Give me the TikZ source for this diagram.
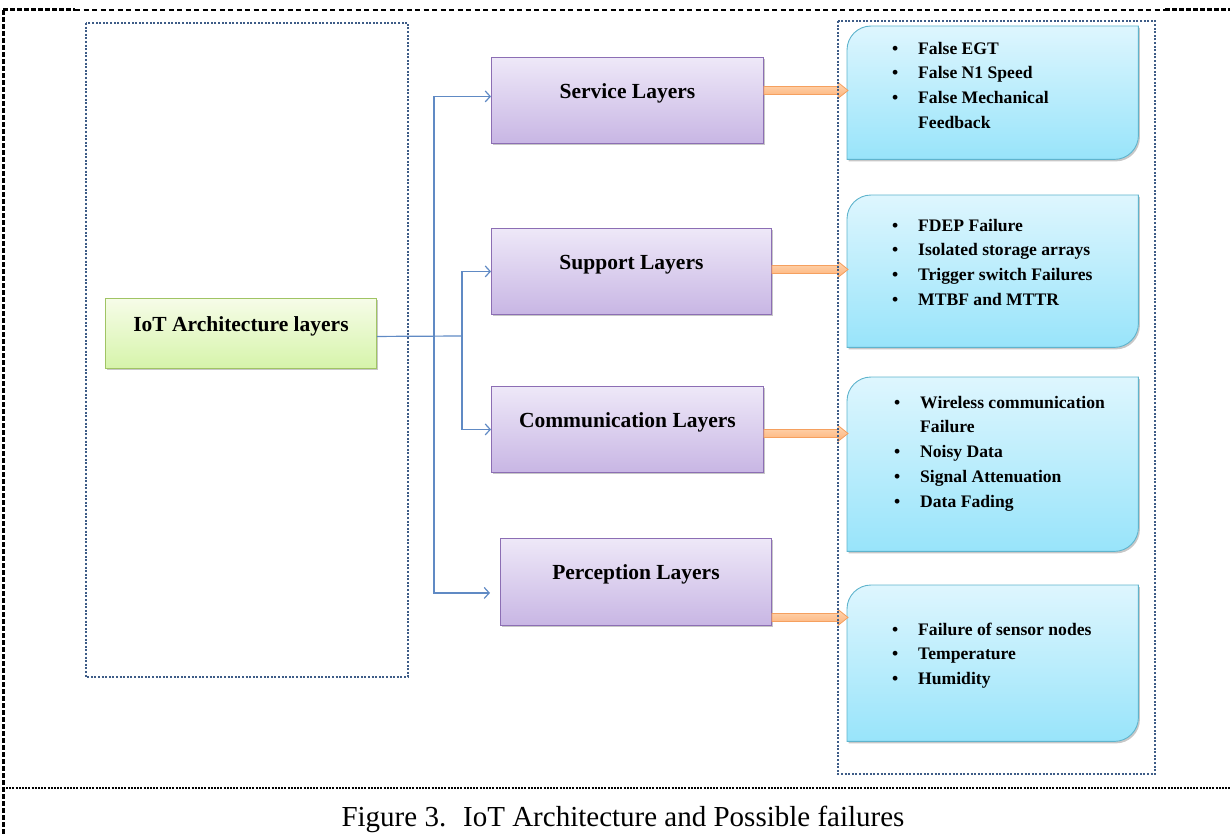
\documentclass[tikz,border=0pt]{standalone}
\usepackage{fontspec}
\setmainfont{Liberation Serif}
\usetikzlibrary{arrows.meta,calc,shadows,backgrounds}

\definecolor{layerborder}{RGB}{140,110,180}
\definecolor{layertop}{RGB}{238,232,248}
\definecolor{layerbot}{RGB}{200,182,228}
\definecolor{rootborder}{RGB}{160,196,100}
\definecolor{roottop}{RGB}{246,252,232}
\definecolor{rootbot}{RGB}{214,244,170}
\definecolor{failborder}{RGB}{95,180,205}
\definecolor{failtop}{RGB}{222,246,254}
\definecolor{failbot}{RGB}{152,228,250}
\definecolor{treeblue}{RGB}{96,138,196}
\definecolor{frameblue}{RGB}{62,92,135}
\definecolor{arrowborder}{RGB}{245,160,95}
\definecolor{arrowtop}{RGB}{255,214,178}
\definecolor{arrowbot}{RGB}{253,178,120}

% bullet lists inside the failure boxes
\newlength\bulletindent
\setlength\bulletindent{45pt}
\newcommand\failitem[1]{\par\noindent\hspace*{\bulletindent}\makebox[26pt][l]{\textbullet}#1}
\newcommand\failmore[1]{\par\noindent\hspace*{\dimexpr\bulletindent+26pt\relax}#1}
\newcommand\faillist[1]{\parbox[t]{291pt}{#1}}

% block arrow from a layer box to its failure box
\newcommand\blockarrow[3]{%
  \draw[oarrow] let \p1=([yshift=#2]#1.east), \p2=(#3.west) in
    (\x1,\y1+4pt) -- (\x2-9pt,\y1+4pt) -- (\x2-9pt,\y1+8pt) -- (\x2+1pt,\y1)
    -- (\x2-9pt,\y1-8pt) -- (\x2-9pt,\y1-4pt) -- (\x1,\y1-4pt) -- cycle;}

\begin{document}
\begin{tikzpicture}[x=1pt,y=-1pt,
  boxshadow/.style={drop shadow={shadow xshift=1.5pt,shadow yshift=-2pt,opacity=0.22,fill=black}},
  layerbox/.style={anchor=north west, draw=layerborder, line width=0.9pt,
    top color=layertop, bottom color=layerbot, boxshadow,
    inner xsep=0pt, inner ysep=0pt, text height=41pt, text depth=45pt,
    font=\fontsize{21.5}{26}\selectfont\bfseries},
  rootbox/.style={anchor=north west, draw=rootborder, line width=0.9pt,
    top color=roottop, bottom color=rootbot, boxshadow,
    inner xsep=0pt, inner ysep=0pt, text height=33pt, text depth=37pt,
    font=\fontsize{21.5}{26}\selectfont\bfseries},
  failtext/.style={anchor=north west, inner sep=0pt,
    font=\fontsize{17.6}{24.7}\selectfont\bfseries},
  failshape/.style={draw=failborder, line width=0.9pt,
    top color=failtop, bottom color=failbot, boxshadow},
  tree/.style={draw=treeblue, line width=1.2pt},
  treearrow/.style={tree, -{Straight Barb[length=5pt,width=11pt]}},
  oarrow/.style={draw=arrowborder, line width=0.8pt, top color=arrowtop, bottom color=arrowbot},
  blueframe/.style={draw=frameblue, line width=2pt, dash pattern=on 2pt off 1.6pt},
  outerthick/.style={draw=black, line width=3pt, dash pattern=on 5pt off 2pt},
  outerthin/.style={draw=black, line width=1.6pt, dash pattern=on 5pt off 3.5pt},
  outerdot/.style={draw=black, line width=2.6pt, dash pattern=on 2pt off 1.2pt}]

\useasboundingbox (0,0) rectangle (1230,834);

% root and layer boxes
\node[rootbox, minimum width=271pt] (root) at (105,298) {IoT Architecture layers};
\node[layerbox, minimum width=272pt] (svc) at (491,57) {Service Layers};
\node[layerbox, minimum width=280pt] (sup) at (491,228) {Support Layers};
\node[layerbox, minimum width=272pt] (com) at (491,386) {Communication Layers};
\node[layerbox, minimum width=271pt, text depth=46pt] (per) at (500,538) {Perception Layers};

% failure lists
\node[failtext, text height=28pt, text depth=105pt] (f1) at (847,26) {\faillist{%
  \failitem{False EGT}
  \failitem{False N1 Speed}
  \failitem{False Mechanical}
  \failmore{Feedback}}};
\node[failtext, text height=36pt, text depth=116pt] (f2) at (847,195) {\faillist{%
  \failitem{FDEP Failure}
  \failitem{Isolated storage arrays}
  \failitem{Trigger switch Failures}
  \failitem{MTBF and MTTR}}};
\node[failtext, text height=31pt, text depth=143pt] (f3) at (847,377) {\faillist{%
  \setlength\bulletindent{47pt}%
  \failitem{Wireless communication}
  \failmore{Failure}
  \failitem{Noisy Data}
  \failitem{Signal Attenuation}
  \failitem{Data Fading}}};
\node[failtext, text height=50pt, text depth=106pt] (f4) at (847,585) {\faillist{%
  \failitem{Failure of sensor nodes}
  \failitem{Temperature}
  \failitem{Humidity}}};

% failure box outlines: rounded top-left and bottom-right corners
\begin{scope}[on background layer]
  \foreach \f in {f1,f2,f3,f4}
    \draw[failshape] (\f.south west) -- ([yshift=-24pt]\f.north west)
      arc[start angle=180,end angle=90,radius=24pt] -- (\f.north east)
      -- ([yshift=24pt]\f.south east)
      arc[start angle=0,end angle=-90,radius=24pt] -- cycle;
\end{scope}

% branching connectors from the root box
\coordinate (j1) at (434,336);
\coordinate (j2) at (462,336);
\draw[tree] ([yshift=-3pt]root.east) -- (j2);
\draw[treearrow] (j1) |- ([yshift=4pt]svc.west);
\draw[treearrow] (j2) |- (sup.west);
\draw[treearrow] (j2) |- (com.west);
\draw[treearrow, shorten >=10pt] (j1) |- ([yshift=-11pt]per.west);

% block arrows to the failure lists
\blockarrow{svc}{10pt}{f1}
\blockarrow{sup}{2pt}{f2}
\blockarrow{com}{-4pt}{f3}
\blockarrow{per}{-35.5pt}{f4}

% dotted group frames
\draw[blueframe] (86,23) rectangle (408,677);
\draw[blueframe] (838,21) rectangle (1155,774);

% outer frame
\draw[outerthick] (3,10) -- (3,834);
\draw[outerthick] (3,10) -- (75,10);
\draw[outerthin] (75,10) -- (1165,10);
\draw[outerthick] (1165,10) -- (1230,10);
\draw[outerdot] (6,788) -- (1230,788);

% caption
\node[anchor=base, inner sep=0pt, font=\fontsize{29}{34}\selectfont] (cap) at (623,826)
  {Figure 3.~ IoT Architecture and Possible failures};
\end{tikzpicture}
\end{document}
